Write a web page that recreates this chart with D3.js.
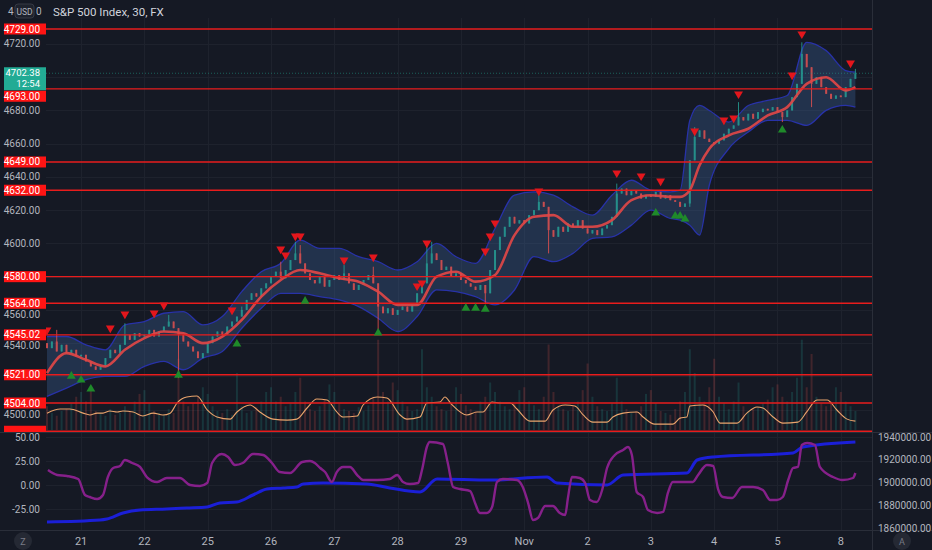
<!DOCTYPE html>
<html>
<head>
<meta charset="utf-8">
<script src="https://cdn.jsdelivr.net/npm/d3@7"></script>
<style>
html, body { margin: 0; padding: 0; background: #151924; overflow: hidden; }
svg { display: block; font-family: Roboto, "Open Sans", sans-serif; }
</style>
</head>
<body>
<svg id="chart" width="932" height="550"></svg>
<script>
// ---- data ----
const firstOpen = 4540;
const closes = [
  4537, 4541, 4535, 4539, 4534, 4536, 4532,
  4533, 4529, 4526, 4524, 4526, 4531, 4536, 4534, 4539, 4545, 4542, 4546, 4544,
  4545, 4548, 4544, 4547, 4550, 4553, 4549, 4545, 4541, 4538, 4535, 4531, 4534,
  4540, 4544, 4547, 4545, 4550, 4553, 4556, 4560, 4566, 4570, 4568, 4573, 4576,
  4580, 4583, 4579, 4584, 4590, 4594, 4588, 4582, 4578, 4576, 4580, 4574, 4578,
  4581, 4578, 4582, 4576, 4572, 4575, 4578, 4581, 4576, 4562, 4558, 4561, 4557,
  4560, 4562, 4559, 4563, 4570, 4576, 4588, 4594, 4590, 4584, 4586, 4580, 4582,
  4578, 4576, 4574, 4572, 4575, 4570, 4584, 4596, 4604, 4610, 4616, 4612, 4614,
  4612, 4617, 4620, 4625, 4622, 4608, 4604, 4610, 4607, 4612, 4610, 4614, 4609,
  4606, 4608, 4605, 4609, 4611, 4616, 4630, 4633, 4629, 4632, 4630, 4627, 4629,
  4628, 4631, 4627, 4629, 4626, 4625, 4622, 4624, 4650, 4664, 4668, 4663, 4661,
  4660, 4662, 4666, 4669, 4671, 4676, 4674, 4678, 4675, 4679, 4681, 4680, 4682,
  4679, 4676, 4680, 4688, 4696, 4714, 4706, 4696, 4700, 4694, 4690, 4687, 4689,
  4688, 4694, 4699, 4702.38
];
// long wicks: bar index and the price the wick reaches
const wickBars = [2, 16, 25, 27, 40, 48, 51, 52, 61, 67, 68, 78, 79, 90, 101, 103, 117, 132, 133, 142, 151, 155, 157, 166];
const wickEnds = [4548, 4552, 4557, 4519, 4562, 4589, 4601, 4599, 4587, 4586, 4548, 4599, 4601, 4564, 4629, 4594, 4636, 4622, 4670, 4685, 4673, 4721, 4682, 4705];

const volumes = [
  25, 18, 15, 20, 22, 28, 35,
  40, 30, 45, 20, 18, 15, 22, 16, 18, 25, 20, 30, 38,
  42, 28, 20, 18, 16, 22, 18, 75, 30, 25, 28, 35, 45,
  38, 25, 20, 18, 22, 16, 60, 25, 18, 20, 24, 30, 40,
  45, 30, 35, 25, 28, 40, 55, 30, 22, 20, 25, 32, 48,
  40, 28, 22, 20, 18, 24, 20, 26, 35, 95, 40, 30, 50,
  42, 30, 25, 20, 22, 85, 45, 35, 25, 22, 20, 28, 45,
  38, 26, 22, 20, 30, 35, 50, 40, 30, 25, 22, 28, 42,
  45, 30, 26, 22, 35, 90, 40, 25, 22, 20, 25, 30, 42,
  70, 35, 25, 22, 20, 28, 55, 30, 22, 18, 20, 25, 38,
  42, 28, 20, 18, 16, 22, 30, 40, 85, 60, 35, 30, 45,
  75, 35, 28, 22, 30, 50, 25, 20, 22, 24, 28, 32, 45,
  48, 35, 30, 40, 55, 95, 45, 80, 35, 28, 25, 30, 45,
  40, 30, 25, 20
];

// moving average and envelope, sampled at these bars
const bandBars = [0, 4, 8, 12, 16, 20, 24, 28, 32, 36, 40, 44, 48, 52, 56, 60, 64, 68, 72, 76, 80, 84, 88, 92, 96, 100, 104, 108, 112, 116, 120, 124, 128, 130, 132, 134, 136, 140, 144, 148, 152, 156, 160, 164, 166];
const maVals = [4522, 4534, 4530, 4526, 4536, 4543, 4547, 4546, 4540, 4544, 4554, 4568, 4578, 4584, 4582, 4579, 4577, 4571, 4563, 4563, 4580, 4583, 4577, 4581, 4605, 4616, 4617, 4610, 4610, 4614, 4626, 4629, 4628, 4628, 4632, 4647, 4657, 4665, 4669, 4677, 4682, 4696, 4700, 4692, 4694];
const upperVals = [4544, 4544, 4539, 4536, 4551, 4553, 4558, 4559, 4551, 4556, 4571, 4583, 4588, 4602, 4597, 4597, 4592, 4589, 4584, 4589, 4600, 4592, 4588, 4609, 4629, 4631, 4629, 4622, 4617, 4629, 4638, 4632, 4631, 4632, 4674, 4683, 4680, 4673, 4683, 4686, 4689, 4721, 4716, 4704, 4703];
const lowerVals = [4508, 4513, 4518, 4520, 4520, 4526, 4529, 4524, 4531, 4535, 4549, 4561, 4570, 4570, 4568, 4566, 4562, 4555, 4547, 4556, 4572, 4571, 4568, 4563, 4572, 4592, 4589, 4594, 4603, 4604, 4611, 4620, 4615, 4614, 4611, 4605, 4635, 4657, 4667, 4674, 4674, 4671, 4680, 4683, 4682];

// orange line on the price pane
const orangeBars = [0, 2.7, 4.7, 7.4, 8.8, 10.3, 11.5, 12.9, 14.4, 15.6, 17.7, 19.7, 21.8, 23.8, 25.3, 26.7, 28.7, 30.8, 32.9, 34.9, 37.6, 39, 41.7, 43.7, 46.4, 49.3, 51.3, 53.4, 55.4, 57.5, 59.5, 60.8, 63.7, 64.9, 67.8, 69.8, 72.5, 73.9, 76.6, 78, 80.7, 81.7, 83, 86.2, 88.3, 89.5, 91.4, 93, 95.1, 96.5, 99.2, 102.3, 103.9, 106.4, 108.4, 110.1, 112.1, 115, 116.2, 118.3, 121.2, 122.4, 124.8, 128.5, 130, 131.4, 132, 134.7, 136.8, 138.2, 141.7, 143.7, 145.8, 147, 149.1, 151.1, 154.2, 156, 158.1, 160.2, 162.2, 164.3, 166];
const orangeVals = [4497.9, 4500.4, 4500.4, 4497.9, 4496.8, 4497.9, 4497.9, 4499.2, 4498.6, 4499.2, 4498.6, 4496.2, 4497.9, 4496.8, 4497.9, 4504.0, 4507.6, 4508.2, 4499.8, 4495.6, 4494.3, 4498.6, 4502.8, 4498.6, 4494.3, 4493.7, 4494.3, 4501.0, 4506.4, 4505.8, 4498.6, 4495.6, 4496.2, 4502.8, 4507.6, 4507.0, 4496.8, 4494.3, 4495.6, 4504.0, 4504.6, 4507.6, 4503.5, 4496.8, 4498.6, 4498.6, 4504.6, 4504.0, 4504.0, 4500.4, 4493.1, 4493.1, 4499.8, 4502.8, 4502.2, 4496.8, 4492.5, 4492.5, 4495.6, 4497.9, 4498.6, 4495.6, 4491.3, 4491.3, 4494.9, 4495.6, 4502.2, 4502.8, 4498.6, 4491.9, 4491.9, 4497.9, 4501.6, 4501.0, 4495.6, 4491.9, 4492.5, 4498.6, 4505.8, 4505.8, 4499.8, 4494.3, 4493.1];

// signal markers
const sellBars = [0, 13, 16, 22, 24, 38, 48, 49, 51, 52, 61, 67, 76, 77, 78, 90, 91, 92, 101, 117, 122, 126, 133, 139, 141, 142, 153, 155, 165];
const sellPrices = [4547.9, 4549.1, 4557.5, 4558.1, 4562.9, 4559.9, 4596.6, 4593.0, 4604.4, 4604.4, 4590.0, 4591.8, 4574.4, 4576.2, 4600.2, 4595.4, 4604.4, 4612.3, 4631.5, 4642.4, 4640.6, 4637.5, 4667.6, 4674.2, 4675.4, 4689.9, 4701.3, 4726.0, 4708.5];
const buyBars = [5, 7, 9, 27, 39, 53, 68, 86, 88, 90, 125, 129, 130, 131, 151];
const buyPrices = [4520.2, 4517.8, 4512.4, 4520.8, 4539.5, 4565.3, 4546.1, 4561.1, 4561.1, 4560.5, 4618.3, 4616.5, 4616.5, 4614.7, 4668.2];

// horizontal levels
const levels = [4729, 4693, 4649, 4632, 4580, 4564, 4545.02, 4521, 4504, 4487];
const priceTicks = [4500, 4520, 4540, 4560, 4580, 4600, 4620, 4640, 4660, 4680, 4700, 4720];
const lastPrice = 4702.38;

// lower pane
const purpleBars = [0.2, 2.1, 4.1, 6.4, 7.8, 8.8, 10.3, 11.5, 12.5, 13.6, 15, 16, 17.5, 19.1, 20.5, 22.6, 24.6, 27.3, 29.4, 31.4, 32.9, 33.9, 35.9, 37.2, 38.6, 40.2, 42.3, 44.4, 46.2, 47.8, 49.9, 52.4, 54, 55, 56.1, 57.1, 58.5, 59.5, 60.8, 62.2, 63.7, 64.9, 67.8, 70.4, 71.9, 73.1, 74.5, 76.2, 77, 78, 78.6, 81.3, 82.3, 83.4, 84.8, 86.9, 87.9, 88.9, 90.3, 91.4, 92.4, 93.6, 96.5, 97.7, 98.8, 99.8, 100.8, 102.3, 103.9, 105.3, 106.4, 107, 107.8, 109.4, 110.5, 111.5, 112.9, 114, 115, 116.6, 118.3, 119.3, 120.1, 121.1, 122.4, 123.4, 125.3, 126.5, 127.5, 128.5, 130.6, 132.6, 133.7, 135.5, 136.8, 137.8, 138.8, 140.7, 142.7, 145, 147, 148.5, 149.9, 151.1, 152.2, 153.2, 154.2, 155, 156.1, 157.7, 158.7, 161.4, 163.4, 165.5, 166];
const purpleVals = [15.6, 10.4, 9.4, 6.2, -10.4, -12.5, -14.6, -10.4, 8.3, 17.7, 19.8, 26.0, 22.9, 18.8, 8.3, 3.1, 7.3, 7.3, 0, -1.0, 2.1, 22.9, 32.3, 29.2, 20.8, 22.9, 32.3, 31.3, 22.9, 13.5, 12.5, 24.0, 25.0, 22.9, 17.7, 13.5, 3.1, 13.5, 18.8, 18.8, 10.4, 5.2, 5.2, 6.2, 10.4, 3.1, 1.0, 2.1, 15.6, 39.6, 44.8, 42.7, 22.9, -2.1, -4.2, -6.3, -18.8, -29.2, -29.2, -22.9, 3.1, 6.2, 5.2, -2.1, -18.8, -36.5, -34.4, -21.9, -21.9, -29.2, -31.3, -12.5, 8.3, 7.3, 2.1, -15.6, -17.7, -5.2, 17.7, 31.3, 36.5, 39.6, 31.3, -7.3, -12.5, -26.0, -29.2, -28.1, -8.3, 3.1, 3.1, 3.1, 10.4, 20.8, 19.8, -4.2, -12.5, -13.5, -2.1, -2.1, -5.2, -15.6, -15.6, -12.5, 5.2, 17.7, 18.8, 41.7, 43.8, 41.7, 18.8, 8.3, 5.2, 7.3, 12.5];
const blueBars = [0, 10.9, 12.3, 15.6, 19.1, 24.6, 28.7, 32.9, 35.5, 39, 42.3, 45.2, 48.5, 51.3, 52.6, 56.7, 65.7, 70.4, 76.6, 80.1, 91, 102.7, 104.7, 115, 118.3, 131.4, 133.5, 136.8, 153.2, 155.2, 166];
const blueVals = [1865300, 1867030, 1867910, 1873190, 1875830, 1876700, 1877580, 1878460, 1881980, 1882860, 1889010, 1894290, 1895170, 1896050, 1898680, 1899560, 1898680, 1895170, 1891650, 1903080, 1902200, 1904840, 1899560, 1897800, 1906590, 1908350, 1919780, 1922420, 1925930, 1931210, 1935600];
const oscTicks = [50, 25, 0, -25];
const cumTicks = [1940000, 1920000, 1900000, 1880000, 1860000];

const dayBars = [7, 20, 33, 46, 59, 72, 85, 98, 111, 124, 137, 150, 163];
const dayLabels = ["21", "22", "25", "26", "27", "28", "29", "Nov", "2", "3", "4", "5", "8"];

// ---- layout ----
const plotL = 46, plotR = 872;
const priceTop = 18, priceBottom = 432;
const lowTop = 433, lowBottom = 530;

const svg = d3.select("#chart");
const x = d3.scaleLinear().domain([0, 166]).range([47, 855.4]);
const y = d3.scaleLinear().domain([4504, 4729]).range([403, 29]);
const yVol = d3.scaleLinear().domain([0, 100]).range([430, 335]);
const yOsc = d3.scaleLinear().domain([-25, 50]).range([509, 437]);
const yCum = d3.scaleLinear().domain([1860000, 1940000]).range([528, 437]);

svg.append("rect").attr("width", 932).attr("height", 550).attr("fill", "#151924");

const defs = svg.append("defs");
defs.append("clipPath").attr("id", "clipPrice").append("rect")
  .attr("x", plotL).attr("y", priceTop).attr("width", plotR - plotL).attr("height", priceBottom - priceTop);
defs.append("clipPath").attr("id", "clipLow").append("rect")
  .attr("x", plotL).attr("y", lowTop).attr("width", plotR - plotL).attr("height", lowBottom - lowTop);
defs.append("clipPath").attr("id", "clipAxis").append("rect")
  .attr("x", 0).attr("y", priceTop).attr("width", plotL).attr("height", priceBottom - priceTop);

// grid
const grid = svg.append("g").attr("stroke", "#1e222d").attr("stroke-width", 1);
grid.selectAll("line.h").data(priceTicks).enter().append("line")
  .attr("x1", plotL).attr("x2", plotR)
  .attr("y1", d => Math.round(y(d)) + 0.5).attr("y2", d => Math.round(y(d)) + 0.5);
grid.selectAll("line.o").data(oscTicks).enter().append("line")
  .attr("x1", plotL).attr("x2", plotR)
  .attr("y1", d => Math.round(yOsc(d)) + 0.5).attr("y2", d => Math.round(yOsc(d)) + 0.5);
grid.selectAll("line.v").data(dayBars).enter().append("line")
  .attr("y1", priceTop).attr("y2", lowBottom)
  .attr("x1", d => Math.round(x(d)) + 0.5).attr("x2", d => Math.round(x(d)) + 0.5);

const opens = closes.map((c, i) => i === 0 ? firstOpen : closes[i - 1]);
const wickMap = new Map(wickBars.map((b, i) => [b, wickEnds[i]]));

const price = svg.append("g").attr("clip-path", "url(#clipPrice)");

// volume
price.append("g").selectAll("rect").data(volumes).enter().append("rect")
  .attr("x", (d, i) => x(i) - 1).attr("width", 2)
  .attr("y", d => yVol(d)).attr("height", d => yVol(0) - yVol(d))
  .attr("fill", (d, i) => closes[i] >= opens[i] ? "rgba(38,166,154,0.2)" : "rgba(239,83,80,0.2)");

// envelope
const bandIdx = d3.range(bandBars.length);
price.append("path").datum(bandIdx)
  .attr("fill", "rgba(62,104,158,0.33)")
  .attr("d", d3.area().curve(d3.curveMonotoneX)
    .x(i => x(bandBars[i])).y0(i => y(lowerVals[i])).y1(i => y(upperVals[i])));
[upperVals, lowerVals].forEach(vals => {
  price.append("path").datum(bandIdx)
    .attr("fill", "none").attr("stroke", "#2832a8").attr("stroke-width", 1.3)
    .attr("d", d3.line().curve(d3.curveMonotoneX).x(i => x(bandBars[i])).y(i => y(vals[i])));
});

// orange line
price.append("path").datum(d3.range(orangeBars.length))
  .attr("fill", "none").attr("stroke", "#eaa46c").attr("stroke-width", 1.1)
  .attr("d", d3.line().curve(d3.curveMonotoneX).x(i => x(orangeBars[i])).y(i => y(orangeVals[i])));

// candles
const candle = price.append("g").selectAll("g").data(closes).enter().append("g")
  .attr("opacity", 0.8);
candle.append("line")
  .attr("x1", (d, i) => x(i)).attr("x2", (d, i) => x(i))
  .attr("y1", (d, i) => y(Math.max(d, opens[i], wickMap.get(i) || 0)))
  .attr("y2", (d, i) => y(Math.min(d, opens[i], wickMap.get(i) || 1e9)))
  .attr("stroke", (d, i) => d >= opens[i] ? "#26a69a" : "#ef5350").attr("stroke-width", 1);
candle.append("rect")
  .attr("x", (d, i) => x(i) - 1).attr("width", 2)
  .attr("y", (d, i) => y(Math.max(d, opens[i])))
  .attr("height", (d, i) => Math.max(1, Math.abs(y(d) - y(opens[i]))))
  .attr("fill", (d, i) => d >= opens[i] ? "#26a69a" : "#ef5350");

// moving average
price.append("path").datum(bandIdx)
  .attr("fill", "none").attr("stroke", "#e04646").attr("stroke-width", 2.6).attr("opacity", 0.92)
  .attr("d", d3.line().curve(d3.curveMonotoneX).x(i => x(bandBars[i])).y(i => y(maVals[i])));

// last price line
price.append("line")
  .attr("x1", plotL).attr("x2", plotR).attr("y1", y(lastPrice)).attr("y2", y(lastPrice))
  .attr("stroke", "#22ab94").attr("stroke-opacity", 0.5).attr("stroke-dasharray", "1,2");

// levels
price.append("g").selectAll("line").data(levels).enter().append("line")
  .attr("x1", plotL).attr("x2", plotR)
  .attr("y1", d => y(d)).attr("y2", d => y(d))
  .attr("stroke", "#e81c1c").attr("stroke-width", 1.3);

// markers
const tri = d3.symbol().type(d3.symbolTriangle).size(34);
price.append("g").selectAll("path").data(sellBars).enter().append("path")
  .attr("d", tri)
  .attr("transform", (d, i) => `translate(${x(d)},${y(sellPrices[i])}) rotate(180)`)
  .attr("fill", "#e3161c");
price.append("g").selectAll("path").data(buyBars).enter().append("path")
  .attr("d", tri)
  .attr("transform", (d, i) => `translate(${x(d)},${y(buyPrices[i])})`)
  .attr("fill", "#1f8a2a");

// lower pane
const low = svg.append("g").attr("clip-path", "url(#clipLow)");
low.append("path").datum(d3.range(blueBars.length))
  .attr("fill", "none").attr("stroke", "#1b1fd8").attr("stroke-width", 3)
  .attr("d", d3.line().curve(d3.curveMonotoneX).x(i => x(blueBars[i])).y(i => yCum(blueVals[i])));
low.append("path").datum(d3.range(purpleBars.length))
  .attr("fill", "none").attr("stroke", "#86208a").attr("stroke-width", 2.4)
  .attr("d", d3.line().curve(d3.curveMonotoneX).x(i => x(purpleBars[i])).y(i => yOsc(purpleVals[i])));

// separators
const sep = svg.append("g").attr("stroke", "#2a2e39").attr("stroke-width", 1);
sep.append("line").attr("x1", 0).attr("x2", 932).attr("y1", 432.5).attr("y2", 432.5);
sep.append("line").attr("x1", 0).attr("x2", 932).attr("y1", 530.5).attr("y2", 530.5);
sep.append("line").attr("x1", 872.5).attr("x2", 872.5).attr("y1", 0).attr("y2", 550);

// left price axis
const yl = y(lastPrice);
const boxTop = yl - 6, boxBottom = yl + 17;
// label centres: a level label under the last-price box is pushed below it
const labelY = d => {
  const c = y(d);
  return (c + 5.5 > boxTop && c - 5.5 < boxBottom) ? boxBottom + 6 : c;
};
const axisG = svg.append("g").attr("clip-path", "url(#clipAxis)")
  .attr("font-size", 10).attr("text-anchor", "end");
// gray ticks fully behind a label are skipped, ones just under a label peek out below it
const shownTicks = priceTicks.filter(t =>
  levels.every(l => Math.abs(y(t) - labelY(l)) > 4) && !(y(t) > boxTop && y(t) < boxBottom));
const tickY = t => {
  let b = y(t) + 3.5;
  levels.forEach(l => {
    const ly = labelY(l);
    if (y(t) > ly && y(t) - ly < 12) b = Math.max(b, ly + 3.5 + 11);
  });
  return b;
};
axisG.selectAll("text.tick").data(shownTicks).enter().append("text")
  .attr("x", 40).attr("y", tickY).attr("fill", "#b2b5be").text(d => d.toFixed(2));
const lvl = axisG.selectAll("g.lvl").data(levels).enter().append("g");
lvl.append("rect").attr("x", 4).attr("width", 42).attr("y", d => labelY(d) - 5.5).attr("height", 11).attr("fill", "#ff1414");
lvl.filter(d => labelY(d) + 5.5 <= priceBottom).append("text")
  .attr("x", 40).attr("y", d => labelY(d) + 3.5).attr("fill", "#ffffff").text(d => d.toFixed(2));
axisG.append("rect").attr("x", 4).attr("width", 42).attr("y", boxTop).attr("height", boxBottom - boxTop).attr("fill", "#22ab94");
axisG.append("text").attr("x", 40).attr("y", yl + 3).attr("fill", "#ffffff").attr("font-size", 9.5).text(lastPrice.toFixed(2));
axisG.append("text").attr("x", 40).attr("y", yl + 14).attr("fill", "#ffffff").attr("font-size", 9.5).text("12:54");

// lower pane axes
svg.append("g").attr("font-size", 10).attr("text-anchor", "end").attr("fill", "#b2b5be")
  .selectAll("text").data(oscTicks).enter().append("text")
  .attr("x", 40).attr("y", d => yOsc(d) + 3.5).text(d => d.toFixed(2));
svg.append("g").attr("font-size", 10).attr("text-anchor", "start").attr("fill", "#b2b5be")
  .selectAll("text").data(cumTicks).enter().append("text")
  .attr("x", 878).attr("y", d => yCum(d) + 3.5).text(d => d.toFixed(2));

// time axis
svg.append("g").attr("font-size", 11).attr("text-anchor", "middle").attr("fill", "#b2b5be")
  .selectAll("text").data(dayBars).enter().append("text")
  .attr("x", d => x(d)).attr("y", 545).text((d, i) => dayLabels[i]);
[[23, "Z"], [902, "A"]].forEach(([cx, t]) => {
  svg.append("circle").attr("cx", cx).attr("cy", 541).attr("r", 9).attr("fill", "#252934");
  svg.append("text").attr("x", cx).attr("y", 544.5).attr("text-anchor", "middle")
    .attr("font-size", 9).attr("fill", "#787b86").text(t);
});

// header
svg.append("rect").attr("x", 0).attr("y", 0).attr("width", plotL).attr("height", priceTop).attr("fill", "#151924");
svg.append("text").attr("x", 8).attr("y", 15).attr("font-size", 10).attr("fill", "#b2b5be").text("4");
svg.append("rect").attr("x", 15).attr("y", 4).attr("width", 19).attr("height", 14).attr("rx", 3)
  .attr("fill", "#1e222d").attr("stroke", "#363a45");
svg.append("text").attr("x", 24.5).attr("y", 14.5).attr("text-anchor", "middle").attr("font-size", 8.5)
  .attr("fill", "#b2b5be").text("USD");
svg.append("text").attr("x", 36).attr("y", 15).attr("font-size", 10).attr("fill", "#b2b5be").text("0");
svg.append("text").attr("x", 53).attr("y", 16).attr("font-size", 11.5).attr("fill", "#d1d4dc")
  .text("S&P 500 Index, 30, FX");
</script>
</body>
</html>
